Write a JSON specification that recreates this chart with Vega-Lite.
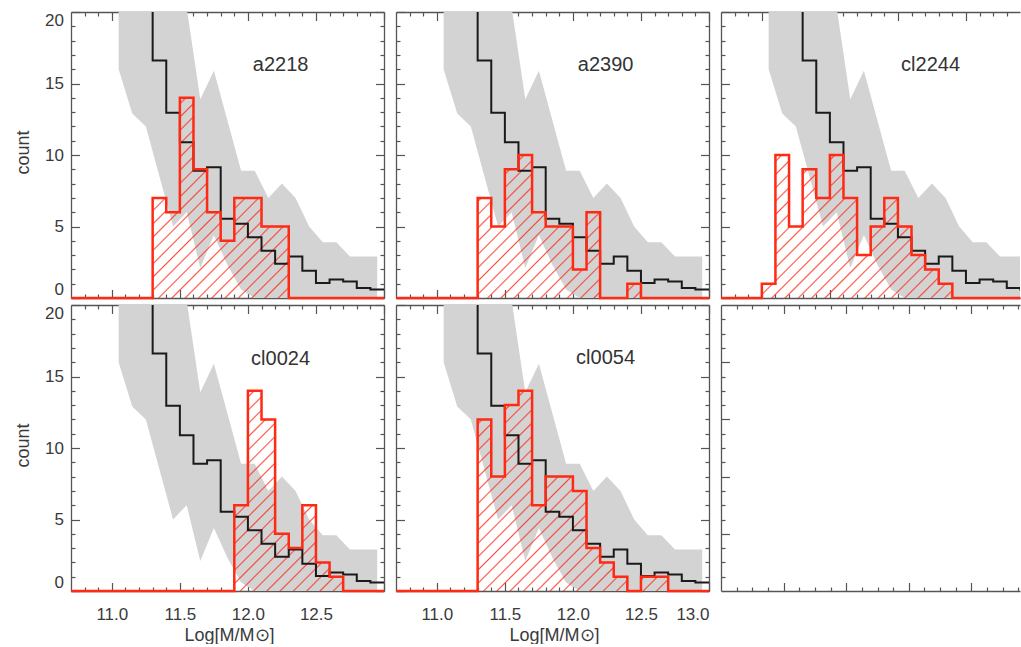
{
"$schema":"https://vega.github.io/schema/vega-lite/v6.json",
"background":"white",
"padding":{"left":14,"top":11,"right":0,"bottom":0},
"columns":3,
"spacing":{"row":7,"column":12},
"bounds":"flush",
"config":{"view":{"stroke":null},"axis":{"grid":false,"domainColor":"#555","domainWidth":1.3,"tickColor":"#555","tickWidth":1.2,"labelColor":"#3a3a3a","titleColor":"#3a3a3a","labelFont":"Liberation Sans","titleFont":"Liberation Sans","labelFontSize":17,"titleFontSize":18,"titleFontWeight":"normal","labelOverlap":false}},
"datasets":{
"band":[
{"x":11.05,"lo":16.0,"hi":30},{"x":11.15,"lo":12.9,"hi":30},{"x":11.25,"lo":12.0,"hi":30},{"x":11.35,"lo":8.5,"hi":30},{"x":11.45,"lo":5.0,"hi":26},{"x":11.55,"lo":6.0,"hi":20.3},{"x":11.65,"lo":2.1,"hi":13.9},{"x":11.75,"lo":4.4,"hi":15.9},{"x":11.85,"lo":2.3,"hi":12.4},{"x":11.95,"lo":0.6,"hi":8.9},{"x":12.05,"lo":0,"hi":8.9},{"x":12.15,"lo":0,"hi":7.0},{"x":12.25,"lo":0,"hi":8.0},{"x":12.35,"lo":0,"hi":7.0},{"x":12.45,"lo":0,"hi":5.0},{"x":12.55,"lo":0,"hi":3.9},{"x":12.65,"lo":0,"hi":3.9},{"x":12.75,"lo":0,"hi":2.9},{"x":12.85,"lo":0,"hi":2.9},{"x":12.95,"lo":0,"hi":2.9}],
"model":[
{"x":11.2,"n":24},{"x":11.3,"n":16.6},{"x":11.4,"n":12.95},{"x":11.5,"n":10.9},{"x":11.6,"n":8.9},{"x":11.7,"n":9.15},{"x":11.8,"n":5.55},{"x":11.9,"n":5.2},{"x":12.0,"n":4.25},{"x":12.1,"n":3.3},{"x":12.2,"n":2.4},{"x":12.3,"n":2.9},{"x":12.4,"n":1.9},{"x":12.5,"n":1.05},{"x":12.6,"n":1.3},{"x":12.7,"n":1.15},{"x":12.8,"n":0.7},{"x":12.9,"n":0.6},{"x":13.0,"n":0.6}],
"labels":[{"p":"a2218"},{"p":"a2390"},{"p":"cl2244"},{"p":"cl0024"},{"p":"cl0054"}],
"obs":[
{"p":"a2218","x":10.7,"n":0},{"p":"a2218","x":10.8,"n":0},{"p":"a2218","x":10.9,"n":0},{"p":"a2218","x":11.0,"n":0},{"p":"a2218","x":11.1,"n":0},{"p":"a2218","x":11.2,"n":0},{"p":"a2218","x":11.3,"n":7},{"p":"a2218","x":11.4,"n":6},{"p":"a2218","x":11.5,"n":14},{"p":"a2218","x":11.6,"n":9},{"p":"a2218","x":11.7,"n":6},{"p":"a2218","x":11.8,"n":4},{"p":"a2218","x":11.9,"n":7},{"p":"a2218","x":12.0,"n":7},{"p":"a2218","x":12.1,"n":5},{"p":"a2218","x":12.2,"n":5},{"p":"a2218","x":12.3,"n":0},{"p":"a2218","x":12.4,"n":0},{"p":"a2218","x":12.5,"n":0},{"p":"a2218","x":12.6,"n":0},{"p":"a2218","x":12.7,"n":0},{"p":"a2218","x":12.8,"n":0},{"p":"a2218","x":12.9,"n":0},{"p":"a2218","x":13.0,"n":0},
{"p":"a2390","x":10.7,"n":0},{"p":"a2390","x":10.8,"n":0},{"p":"a2390","x":10.9,"n":0},{"p":"a2390","x":11.0,"n":0},{"p":"a2390","x":11.1,"n":0},{"p":"a2390","x":11.2,"n":0},{"p":"a2390","x":11.3,"n":7},{"p":"a2390","x":11.4,"n":5},{"p":"a2390","x":11.5,"n":9},{"p":"a2390","x":11.6,"n":10},{"p":"a2390","x":11.7,"n":6},{"p":"a2390","x":11.8,"n":5},{"p":"a2390","x":11.9,"n":5},{"p":"a2390","x":12.0,"n":2},{"p":"a2390","x":12.1,"n":6},{"p":"a2390","x":12.2,"n":0},{"p":"a2390","x":12.3,"n":0},{"p":"a2390","x":12.4,"n":1},{"p":"a2390","x":12.5,"n":0},{"p":"a2390","x":12.6,"n":0},{"p":"a2390","x":12.7,"n":0},{"p":"a2390","x":12.8,"n":0},{"p":"a2390","x":12.9,"n":0},{"p":"a2390","x":13.0,"n":0},
{"p":"cl2244","x":10.7,"n":0},{"p":"cl2244","x":10.8,"n":0},{"p":"cl2244","x":10.9,"n":0},{"p":"cl2244","x":11.0,"n":1},{"p":"cl2244","x":11.1,"n":10},{"p":"cl2244","x":11.2,"n":5},{"p":"cl2244","x":11.3,"n":9},{"p":"cl2244","x":11.4,"n":7},{"p":"cl2244","x":11.5,"n":10},{"p":"cl2244","x":11.6,"n":7},{"p":"cl2244","x":11.7,"n":3},{"p":"cl2244","x":11.8,"n":5},{"p":"cl2244","x":11.9,"n":7},{"p":"cl2244","x":12.0,"n":5},{"p":"cl2244","x":12.1,"n":3},{"p":"cl2244","x":12.2,"n":2},{"p":"cl2244","x":12.3,"n":1},{"p":"cl2244","x":12.4,"n":0},{"p":"cl2244","x":12.5,"n":0},{"p":"cl2244","x":12.6,"n":0},{"p":"cl2244","x":12.7,"n":0},{"p":"cl2244","x":12.8,"n":0},{"p":"cl2244","x":12.9,"n":0},{"p":"cl2244","x":13.0,"n":0},
{"p":"cl0024","x":10.7,"n":0},{"p":"cl0024","x":10.8,"n":0},{"p":"cl0024","x":10.9,"n":0},{"p":"cl0024","x":11.0,"n":0},{"p":"cl0024","x":11.1,"n":0},{"p":"cl0024","x":11.2,"n":0},{"p":"cl0024","x":11.3,"n":0},{"p":"cl0024","x":11.4,"n":0},{"p":"cl0024","x":11.5,"n":0},{"p":"cl0024","x":11.6,"n":0},{"p":"cl0024","x":11.7,"n":0},{"p":"cl0024","x":11.8,"n":0},{"p":"cl0024","x":11.9,"n":6},{"p":"cl0024","x":12.0,"n":14},{"p":"cl0024","x":12.1,"n":12},{"p":"cl0024","x":12.2,"n":4},{"p":"cl0024","x":12.3,"n":3},{"p":"cl0024","x":12.4,"n":6},{"p":"cl0024","x":12.5,"n":2},{"p":"cl0024","x":12.6,"n":1},{"p":"cl0024","x":12.7,"n":0},{"p":"cl0024","x":12.8,"n":0},{"p":"cl0024","x":12.9,"n":0},{"p":"cl0024","x":13.0,"n":0},
{"p":"cl0054","x":10.7,"n":0},{"p":"cl0054","x":10.8,"n":0},{"p":"cl0054","x":10.9,"n":0},{"p":"cl0054","x":11.0,"n":0},{"p":"cl0054","x":11.1,"n":0},{"p":"cl0054","x":11.2,"n":0},{"p":"cl0054","x":11.3,"n":12},{"p":"cl0054","x":11.4,"n":8},{"p":"cl0054","x":11.5,"n":13},{"p":"cl0054","x":11.6,"n":14},{"p":"cl0054","x":11.7,"n":6},{"p":"cl0054","x":11.8,"n":8},{"p":"cl0054","x":11.9,"n":8},{"p":"cl0054","x":12.0,"n":7},{"p":"cl0054","x":12.1,"n":3},{"p":"cl0054","x":12.2,"n":2},{"p":"cl0054","x":12.3,"n":1},{"p":"cl0054","x":12.4,"n":0},{"p":"cl0054","x":12.5,"n":1},{"p":"cl0054","x":12.6,"n":1},{"p":"cl0054","x":12.7,"n":0},{"p":"cl0054","x":12.8,"n":0},{"p":"cl0054","x":12.9,"n":0},{"p":"cl0054","x":13.0,"n":0}]
},
"concat":[
{"width":313,"height":286,"resolve":{"axis":{"x":"independent","y":"independent"}},"layer":[
 {"data":{"name":"band"},"mark":{"type":"area","fill":"#d3d3d3","clip":true},"encoding":{
  "x":{"field":"x","type":"quantitative","scale":{"domain":[10.7,13.0],"nice":false,"zero":false},"axis":{"orient":"bottom","values":[10.8,10.9,11,11.1,11.2,11.3,11.4,11.5,11.6,11.7,11.8,11.9,12,12.1,12.2,12.3,12.4,12.5,12.6,12.7,12.8,12.9,13],"labels":false,"title":null,"tickSize":{"condition":{"test":"abs(datum.value*2-round(datum.value*2))<0.01","value":-8.5},"value":-4}}},
  "y":{"field":"hi","type":"quantitative","scale":{"domain":[0,20],"nice":false,"zero":false},"axis":{"orient":"left","values":[0,1,2,3,4,5,6,7,8,9,10,11,12,13,14,15,16,17,18,19,20],"format":"d","labelExpr":"datum.value % 5 == 0 ? datum.label : ''","labelFlush":true,"labelPadding":16,"tickSize":{"condition":{"test":"datum.value % 5 == 0","value":-8.5},"value":-4},"title":"count","titleX":-48,"titleY":140,"titleAngle":-90,"titleAlign":"center","titleBaseline":"middle"}},
  "y2":{"field":"lo"}}},
 {"data":{"name":"obs"},"transform":[{"filter":"datum.p == 'a2218' && datum.x > 11.25 && datum.x < 12.35"}],"mark":{"type":"area","interpolate":"step-after","clip":true,"fill":{"gradient":"linear","x1":0,"y1":0,"x2":0.9267,"y2":1.3631,"stops":[{"offset":0,"color":"rgba(255,40,20,0)"},{"offset":0.0127,"color":"rgba(255,40,20,0)"},{"offset":0.0167,"color":"rgba(255,40,20,0.8)"},{"offset":0.0207,"color":"rgba(255,40,20,0)"},{"offset":0.046,"color":"rgba(255,40,20,0)"},{"offset":0.05,"color":"rgba(255,40,20,0.8)"},{"offset":0.054,"color":"rgba(255,40,20,0)"},{"offset":0.0793,"color":"rgba(255,40,20,0)"},{"offset":0.0833,"color":"rgba(255,40,20,0.8)"},{"offset":0.0873,"color":"rgba(255,40,20,0)"},{"offset":0.1127,"color":"rgba(255,40,20,0)"},{"offset":0.1167,"color":"rgba(255,40,20,0.8)"},{"offset":0.1207,"color":"rgba(255,40,20,0)"},{"offset":0.146,"color":"rgba(255,40,20,0)"},{"offset":0.15,"color":"rgba(255,40,20,0.8)"},{"offset":0.154,"color":"rgba(255,40,20,0)"},{"offset":0.1793,"color":"rgba(255,40,20,0)"},{"offset":0.1833,"color":"rgba(255,40,20,0.8)"},{"offset":0.1873,"color":"rgba(255,40,20,0)"},{"offset":0.2127,"color":"rgba(255,40,20,0)"},{"offset":0.2167,"color":"rgba(255,40,20,0.8)"},{"offset":0.2207,"color":"rgba(255,40,20,0)"},{"offset":0.246,"color":"rgba(255,40,20,0)"},{"offset":0.25,"color":"rgba(255,40,20,0.8)"},{"offset":0.254,"color":"rgba(255,40,20,0)"},{"offset":0.2793,"color":"rgba(255,40,20,0)"},{"offset":0.2833,"color":"rgba(255,40,20,0.8)"},{"offset":0.2873,"color":"rgba(255,40,20,0)"},{"offset":0.3127,"color":"rgba(255,40,20,0)"},{"offset":0.3167,"color":"rgba(255,40,20,0.8)"},{"offset":0.3207,"color":"rgba(255,40,20,0)"},{"offset":0.346,"color":"rgba(255,40,20,0)"},{"offset":0.35,"color":"rgba(255,40,20,0.8)"},{"offset":0.354,"color":"rgba(255,40,20,0)"},{"offset":0.3793,"color":"rgba(255,40,20,0)"},{"offset":0.3833,"color":"rgba(255,40,20,0.8)"},{"offset":0.3873,"color":"rgba(255,40,20,0)"},{"offset":0.4127,"color":"rgba(255,40,20,0)"},{"offset":0.4167,"color":"rgba(255,40,20,0.8)"},{"offset":0.4207,"color":"rgba(255,40,20,0)"},{"offset":0.446,"color":"rgba(255,40,20,0)"},{"offset":0.45,"color":"rgba(255,40,20,0.8)"},{"offset":0.454,"color":"rgba(255,40,20,0)"},{"offset":0.4793,"color":"rgba(255,40,20,0)"},{"offset":0.4833,"color":"rgba(255,40,20,0.8)"},{"offset":0.4873,"color":"rgba(255,40,20,0)"},{"offset":0.5127,"color":"rgba(255,40,20,0)"},{"offset":0.5167,"color":"rgba(255,40,20,0.8)"},{"offset":0.5207,"color":"rgba(255,40,20,0)"},{"offset":0.546,"color":"rgba(255,40,20,0)"},{"offset":0.55,"color":"rgba(255,40,20,0.8)"},{"offset":0.554,"color":"rgba(255,40,20,0)"},{"offset":0.5793,"color":"rgba(255,40,20,0)"},{"offset":0.5833,"color":"rgba(255,40,20,0.8)"},{"offset":0.5873,"color":"rgba(255,40,20,0)"},{"offset":0.6127,"color":"rgba(255,40,20,0)"},{"offset":0.6167,"color":"rgba(255,40,20,0.8)"},{"offset":0.6207,"color":"rgba(255,40,20,0)"},{"offset":0.646,"color":"rgba(255,40,20,0)"},{"offset":0.65,"color":"rgba(255,40,20,0.8)"},{"offset":0.654,"color":"rgba(255,40,20,0)"},{"offset":0.6793,"color":"rgba(255,40,20,0)"},{"offset":0.6833,"color":"rgba(255,40,20,0.8)"},{"offset":0.6873,"color":"rgba(255,40,20,0)"},{"offset":0.7127,"color":"rgba(255,40,20,0)"},{"offset":0.7167,"color":"rgba(255,40,20,0.8)"},{"offset":0.7207,"color":"rgba(255,40,20,0)"},{"offset":0.746,"color":"rgba(255,40,20,0)"},{"offset":0.75,"color":"rgba(255,40,20,0.8)"},{"offset":0.754,"color":"rgba(255,40,20,0)"},{"offset":0.7793,"color":"rgba(255,40,20,0)"},{"offset":0.7833,"color":"rgba(255,40,20,0.8)"},{"offset":0.7873,"color":"rgba(255,40,20,0)"},{"offset":0.8127,"color":"rgba(255,40,20,0)"},{"offset":0.8167,"color":"rgba(255,40,20,0.8)"},{"offset":0.8207,"color":"rgba(255,40,20,0)"},{"offset":0.846,"color":"rgba(255,40,20,0)"},{"offset":0.85,"color":"rgba(255,40,20,0.8)"},{"offset":0.854,"color":"rgba(255,40,20,0)"},{"offset":0.8793,"color":"rgba(255,40,20,0)"},{"offset":0.8833,"color":"rgba(255,40,20,0.8)"},{"offset":0.8873,"color":"rgba(255,40,20,0)"},{"offset":0.9127,"color":"rgba(255,40,20,0)"},{"offset":0.9167,"color":"rgba(255,40,20,0.8)"},{"offset":0.9207,"color":"rgba(255,40,20,0)"},{"offset":0.946,"color":"rgba(255,40,20,0)"},{"offset":0.95,"color":"rgba(255,40,20,0.8)"},{"offset":0.954,"color":"rgba(255,40,20,0)"},{"offset":0.9793,"color":"rgba(255,40,20,0)"},{"offset":0.9833,"color":"rgba(255,40,20,0.8)"},{"offset":0.9873,"color":"rgba(255,40,20,0)"},{"offset":1,"color":"rgba(255,40,20,0)"}]}},"encoding":{
  "x":{"field":"x","type":"quantitative","scale":{"domain":[10.7,13.0],"nice":false,"zero":false},"axis":{"orient":"top","values":[10.8,10.9,11,11.1,11.2,11.3,11.4,11.5,11.6,11.7,11.8,11.9,12,12.1,12.2,12.3,12.4,12.5,12.6,12.7,12.8,12.9,13],"labels":false,"title":null,"tickSize":{"condition":{"test":"abs(datum.value*2-round(datum.value*2))<0.01","value":-8.5},"value":-4}}},
  "y":{"field":"n","type":"quantitative","stack":null,"scale":{"domain":[0,20],"nice":false,"zero":false},"axis":{"orient":"right","values":[0,1,2,3,4,5,6,7,8,9,10,11,12,13,14,15,16,17,18,19,20],"labels":false,"title":null,"tickSize":{"condition":{"test":"datum.value % 5 == 0","value":-8.5},"value":-4}}}}},
 {"data":{"name":"model"},"mark":{"type":"line","interpolate":"step-after","color":"#1a1a1a","strokeWidth":2,"clip":true},"encoding":{
  "x":{"field":"x","type":"quantitative","scale":{"domain":[10.7,13.0],"nice":false,"zero":false},"axis":null},
  "y":{"field":"n","type":"quantitative","scale":{"domain":[0,20],"nice":false,"zero":false},"axis":null}}},
 {"data":{"name":"obs"},"transform":[{"filter":"datum.p == 'a2218'"}],"mark":{"type":"line","interpolate":"step-after","color":"#ff2a14","strokeWidth":2.5},"encoding":{
  "x":{"field":"x","type":"quantitative","scale":{"domain":[10.7,13.0],"nice":false,"zero":false},"axis":null},
  "y":{"field":"n","type":"quantitative","scale":{"domain":[0,20],"nice":false,"zero":false},"axis":null}}},
 {"data":{"name":"labels"},"transform":[{"filter":"datum.p == 'a2218'"}],"mark":{"type":"text","font":"Liberation Sans","fontSize":20,"color":"#333","align":"center","baseline":"middle"},"encoding":{
  "x":{"datum":12.24,"type":"quantitative","scale":{"domain":[10.7,13.0],"nice":false,"zero":false},"axis":null},
  "y":{"datum":16.3,"type":"quantitative","scale":{"domain":[0,20],"nice":false,"zero":false},"axis":null},
  "text":{"field":"p"}}}
]},
{"width":313,"height":286,"resolve":{"axis":{"x":"independent","y":"independent"}},"layer":[
 {"data":{"name":"band"},"mark":{"type":"area","fill":"#d3d3d3","clip":true},"encoding":{
  "x":{"field":"x","type":"quantitative","scale":{"domain":[10.7,13.0],"nice":false,"zero":false},"axis":{"orient":"bottom","values":[10.8,10.9,11,11.1,11.2,11.3,11.4,11.5,11.6,11.7,11.8,11.9,12,12.1,12.2,12.3,12.4,12.5,12.6,12.7,12.8,12.9,13],"labels":false,"title":null,"tickSize":{"condition":{"test":"abs(datum.value*2-round(datum.value*2))<0.01","value":-8.5},"value":-4}}},
  "y":{"field":"hi","type":"quantitative","scale":{"domain":[0,20],"nice":false,"zero":false},"axis":{"orient":"left","values":[0,1,2,3,4,5,6,7,8,9,10,11,12,13,14,15,16,17,18,19,20],"labels":false,"title":null,"tickSize":{"condition":{"test":"datum.value % 5 == 0","value":-8.5},"value":-4}}},
  "y2":{"field":"lo"}}},
 {"data":{"name":"obs"},"transform":[{"filter":"datum.p == 'a2390' && datum.x > 11.25 && datum.x < 12.55"}],"mark":{"type":"area","interpolate":"step-after","clip":true,"fill":{"gradient":"linear","x1":0,"y1":0,"x2":1.3829,"y2":1.2110,"stops":[{"offset":0,"color":"rgba(255,40,20,0)"},{"offset":0.0127,"color":"rgba(255,40,20,0)"},{"offset":0.0167,"color":"rgba(255,40,20,0.8)"},{"offset":0.0207,"color":"rgba(255,40,20,0)"},{"offset":0.046,"color":"rgba(255,40,20,0)"},{"offset":0.05,"color":"rgba(255,40,20,0.8)"},{"offset":0.054,"color":"rgba(255,40,20,0)"},{"offset":0.0793,"color":"rgba(255,40,20,0)"},{"offset":0.0833,"color":"rgba(255,40,20,0.8)"},{"offset":0.0873,"color":"rgba(255,40,20,0)"},{"offset":0.1127,"color":"rgba(255,40,20,0)"},{"offset":0.1167,"color":"rgba(255,40,20,0.8)"},{"offset":0.1207,"color":"rgba(255,40,20,0)"},{"offset":0.146,"color":"rgba(255,40,20,0)"},{"offset":0.15,"color":"rgba(255,40,20,0.8)"},{"offset":0.154,"color":"rgba(255,40,20,0)"},{"offset":0.1793,"color":"rgba(255,40,20,0)"},{"offset":0.1833,"color":"rgba(255,40,20,0.8)"},{"offset":0.1873,"color":"rgba(255,40,20,0)"},{"offset":0.2127,"color":"rgba(255,40,20,0)"},{"offset":0.2167,"color":"rgba(255,40,20,0.8)"},{"offset":0.2207,"color":"rgba(255,40,20,0)"},{"offset":0.246,"color":"rgba(255,40,20,0)"},{"offset":0.25,"color":"rgba(255,40,20,0.8)"},{"offset":0.254,"color":"rgba(255,40,20,0)"},{"offset":0.2793,"color":"rgba(255,40,20,0)"},{"offset":0.2833,"color":"rgba(255,40,20,0.8)"},{"offset":0.2873,"color":"rgba(255,40,20,0)"},{"offset":0.3127,"color":"rgba(255,40,20,0)"},{"offset":0.3167,"color":"rgba(255,40,20,0.8)"},{"offset":0.3207,"color":"rgba(255,40,20,0)"},{"offset":0.346,"color":"rgba(255,40,20,0)"},{"offset":0.35,"color":"rgba(255,40,20,0.8)"},{"offset":0.354,"color":"rgba(255,40,20,0)"},{"offset":0.3793,"color":"rgba(255,40,20,0)"},{"offset":0.3833,"color":"rgba(255,40,20,0.8)"},{"offset":0.3873,"color":"rgba(255,40,20,0)"},{"offset":0.4127,"color":"rgba(255,40,20,0)"},{"offset":0.4167,"color":"rgba(255,40,20,0.8)"},{"offset":0.4207,"color":"rgba(255,40,20,0)"},{"offset":0.446,"color":"rgba(255,40,20,0)"},{"offset":0.45,"color":"rgba(255,40,20,0.8)"},{"offset":0.454,"color":"rgba(255,40,20,0)"},{"offset":0.4793,"color":"rgba(255,40,20,0)"},{"offset":0.4833,"color":"rgba(255,40,20,0.8)"},{"offset":0.4873,"color":"rgba(255,40,20,0)"},{"offset":0.5127,"color":"rgba(255,40,20,0)"},{"offset":0.5167,"color":"rgba(255,40,20,0.8)"},{"offset":0.5207,"color":"rgba(255,40,20,0)"},{"offset":0.546,"color":"rgba(255,40,20,0)"},{"offset":0.55,"color":"rgba(255,40,20,0.8)"},{"offset":0.554,"color":"rgba(255,40,20,0)"},{"offset":0.5793,"color":"rgba(255,40,20,0)"},{"offset":0.5833,"color":"rgba(255,40,20,0.8)"},{"offset":0.5873,"color":"rgba(255,40,20,0)"},{"offset":0.6127,"color":"rgba(255,40,20,0)"},{"offset":0.6167,"color":"rgba(255,40,20,0.8)"},{"offset":0.6207,"color":"rgba(255,40,20,0)"},{"offset":0.646,"color":"rgba(255,40,20,0)"},{"offset":0.65,"color":"rgba(255,40,20,0.8)"},{"offset":0.654,"color":"rgba(255,40,20,0)"},{"offset":0.6793,"color":"rgba(255,40,20,0)"},{"offset":0.6833,"color":"rgba(255,40,20,0.8)"},{"offset":0.6873,"color":"rgba(255,40,20,0)"},{"offset":0.7127,"color":"rgba(255,40,20,0)"},{"offset":0.7167,"color":"rgba(255,40,20,0.8)"},{"offset":0.7207,"color":"rgba(255,40,20,0)"},{"offset":0.746,"color":"rgba(255,40,20,0)"},{"offset":0.75,"color":"rgba(255,40,20,0.8)"},{"offset":0.754,"color":"rgba(255,40,20,0)"},{"offset":0.7793,"color":"rgba(255,40,20,0)"},{"offset":0.7833,"color":"rgba(255,40,20,0.8)"},{"offset":0.7873,"color":"rgba(255,40,20,0)"},{"offset":0.8127,"color":"rgba(255,40,20,0)"},{"offset":0.8167,"color":"rgba(255,40,20,0.8)"},{"offset":0.8207,"color":"rgba(255,40,20,0)"},{"offset":0.846,"color":"rgba(255,40,20,0)"},{"offset":0.85,"color":"rgba(255,40,20,0.8)"},{"offset":0.854,"color":"rgba(255,40,20,0)"},{"offset":0.8793,"color":"rgba(255,40,20,0)"},{"offset":0.8833,"color":"rgba(255,40,20,0.8)"},{"offset":0.8873,"color":"rgba(255,40,20,0)"},{"offset":0.9127,"color":"rgba(255,40,20,0)"},{"offset":0.9167,"color":"rgba(255,40,20,0.8)"},{"offset":0.9207,"color":"rgba(255,40,20,0)"},{"offset":0.946,"color":"rgba(255,40,20,0)"},{"offset":0.95,"color":"rgba(255,40,20,0.8)"},{"offset":0.954,"color":"rgba(255,40,20,0)"},{"offset":0.9793,"color":"rgba(255,40,20,0)"},{"offset":0.9833,"color":"rgba(255,40,20,0.8)"},{"offset":0.9873,"color":"rgba(255,40,20,0)"},{"offset":1,"color":"rgba(255,40,20,0)"}]}},"encoding":{
  "x":{"field":"x","type":"quantitative","scale":{"domain":[10.7,13.0],"nice":false,"zero":false},"axis":{"orient":"top","values":[10.8,10.9,11,11.1,11.2,11.3,11.4,11.5,11.6,11.7,11.8,11.9,12,12.1,12.2,12.3,12.4,12.5,12.6,12.7,12.8,12.9,13],"labels":false,"title":null,"tickSize":{"condition":{"test":"abs(datum.value*2-round(datum.value*2))<0.01","value":-8.5},"value":-4}}},
  "y":{"field":"n","type":"quantitative","stack":null,"scale":{"domain":[0,20],"nice":false,"zero":false},"axis":{"orient":"right","values":[0,1,2,3,4,5,6,7,8,9,10,11,12,13,14,15,16,17,18,19,20],"labels":false,"title":null,"tickSize":{"condition":{"test":"datum.value % 5 == 0","value":-8.5},"value":-4}}}}},
 {"data":{"name":"model"},"mark":{"type":"line","interpolate":"step-after","color":"#1a1a1a","strokeWidth":2,"clip":true},"encoding":{
  "x":{"field":"x","type":"quantitative","scale":{"domain":[10.7,13.0],"nice":false,"zero":false},"axis":null},
  "y":{"field":"n","type":"quantitative","scale":{"domain":[0,20],"nice":false,"zero":false},"axis":null}}},
 {"data":{"name":"obs"},"transform":[{"filter":"datum.p == 'a2390'"}],"mark":{"type":"line","interpolate":"step-after","color":"#ff2a14","strokeWidth":2.5},"encoding":{
  "x":{"field":"x","type":"quantitative","scale":{"domain":[10.7,13.0],"nice":false,"zero":false},"axis":null},
  "y":{"field":"n","type":"quantitative","scale":{"domain":[0,20],"nice":false,"zero":false},"axis":null}}},
 {"data":{"name":"labels"},"transform":[{"filter":"datum.p == 'a2390'"}],"mark":{"type":"text","font":"Liberation Sans","fontSize":20,"color":"#333","align":"center","baseline":"middle"},"encoding":{
  "x":{"datum":12.24,"type":"quantitative","scale":{"domain":[10.7,13.0],"nice":false,"zero":false},"axis":null},
  "y":{"datum":16.3,"type":"quantitative","scale":{"domain":[0,20],"nice":false,"zero":false},"axis":null},
  "text":{"field":"p"}}}
]},
{"width":299,"height":286,"resolve":{"axis":{"x":"independent","y":"independent"}},"layer":[
 {"data":{"name":"band"},"mark":{"type":"area","fill":"#d3d3d3","clip":true},"encoding":{
  "x":{"field":"x","type":"quantitative","scale":{"domain":[10.7,12.8971],"nice":false,"zero":false},"axis":{"orient":"bottom","values":[10.8,10.9,11,11.1,11.2,11.3,11.4,11.5,11.6,11.7,11.8,11.9,12,12.1,12.2,12.3,12.4,12.5,12.6,12.7,12.8],"labels":false,"title":null,"tickSize":{"condition":{"test":"abs(datum.value*2-round(datum.value*2))<0.01","value":-8.5},"value":-4}}},
  "y":{"field":"hi","type":"quantitative","scale":{"domain":[0,20],"nice":false,"zero":false},"axis":{"orient":"left","values":[0,1,2,3,4,5,6,7,8,9,10,11,12,13,14,15,16,17,18,19,20],"labels":false,"title":null,"tickSize":{"condition":{"test":"datum.value % 5 == 0","value":-8.5},"value":-4}}},
  "y2":{"field":"lo"}}},
 {"data":{"name":"obs"},"transform":[{"filter":"datum.p == 'cl2244' && datum.x > 10.95 && datum.x < 12.45"}],"mark":{"type":"area","interpolate":"step-after","clip":true,"fill":{"gradient":"linear","x1":0,"y1":0,"x2":1.3396,"y2":1.0056,"stops":[{"offset":0,"color":"rgba(255,40,20,0)"},{"offset":0.0127,"color":"rgba(255,40,20,0)"},{"offset":0.0167,"color":"rgba(255,40,20,0.8)"},{"offset":0.0207,"color":"rgba(255,40,20,0)"},{"offset":0.046,"color":"rgba(255,40,20,0)"},{"offset":0.05,"color":"rgba(255,40,20,0.8)"},{"offset":0.054,"color":"rgba(255,40,20,0)"},{"offset":0.0793,"color":"rgba(255,40,20,0)"},{"offset":0.0833,"color":"rgba(255,40,20,0.8)"},{"offset":0.0873,"color":"rgba(255,40,20,0)"},{"offset":0.1127,"color":"rgba(255,40,20,0)"},{"offset":0.1167,"color":"rgba(255,40,20,0.8)"},{"offset":0.1207,"color":"rgba(255,40,20,0)"},{"offset":0.146,"color":"rgba(255,40,20,0)"},{"offset":0.15,"color":"rgba(255,40,20,0.8)"},{"offset":0.154,"color":"rgba(255,40,20,0)"},{"offset":0.1793,"color":"rgba(255,40,20,0)"},{"offset":0.1833,"color":"rgba(255,40,20,0.8)"},{"offset":0.1873,"color":"rgba(255,40,20,0)"},{"offset":0.2127,"color":"rgba(255,40,20,0)"},{"offset":0.2167,"color":"rgba(255,40,20,0.8)"},{"offset":0.2207,"color":"rgba(255,40,20,0)"},{"offset":0.246,"color":"rgba(255,40,20,0)"},{"offset":0.25,"color":"rgba(255,40,20,0.8)"},{"offset":0.254,"color":"rgba(255,40,20,0)"},{"offset":0.2793,"color":"rgba(255,40,20,0)"},{"offset":0.2833,"color":"rgba(255,40,20,0.8)"},{"offset":0.2873,"color":"rgba(255,40,20,0)"},{"offset":0.3127,"color":"rgba(255,40,20,0)"},{"offset":0.3167,"color":"rgba(255,40,20,0.8)"},{"offset":0.3207,"color":"rgba(255,40,20,0)"},{"offset":0.346,"color":"rgba(255,40,20,0)"},{"offset":0.35,"color":"rgba(255,40,20,0.8)"},{"offset":0.354,"color":"rgba(255,40,20,0)"},{"offset":0.3793,"color":"rgba(255,40,20,0)"},{"offset":0.3833,"color":"rgba(255,40,20,0.8)"},{"offset":0.3873,"color":"rgba(255,40,20,0)"},{"offset":0.4127,"color":"rgba(255,40,20,0)"},{"offset":0.4167,"color":"rgba(255,40,20,0.8)"},{"offset":0.4207,"color":"rgba(255,40,20,0)"},{"offset":0.446,"color":"rgba(255,40,20,0)"},{"offset":0.45,"color":"rgba(255,40,20,0.8)"},{"offset":0.454,"color":"rgba(255,40,20,0)"},{"offset":0.4793,"color":"rgba(255,40,20,0)"},{"offset":0.4833,"color":"rgba(255,40,20,0.8)"},{"offset":0.4873,"color":"rgba(255,40,20,0)"},{"offset":0.5127,"color":"rgba(255,40,20,0)"},{"offset":0.5167,"color":"rgba(255,40,20,0.8)"},{"offset":0.5207,"color":"rgba(255,40,20,0)"},{"offset":0.546,"color":"rgba(255,40,20,0)"},{"offset":0.55,"color":"rgba(255,40,20,0.8)"},{"offset":0.554,"color":"rgba(255,40,20,0)"},{"offset":0.5793,"color":"rgba(255,40,20,0)"},{"offset":0.5833,"color":"rgba(255,40,20,0.8)"},{"offset":0.5873,"color":"rgba(255,40,20,0)"},{"offset":0.6127,"color":"rgba(255,40,20,0)"},{"offset":0.6167,"color":"rgba(255,40,20,0.8)"},{"offset":0.6207,"color":"rgba(255,40,20,0)"},{"offset":0.646,"color":"rgba(255,40,20,0)"},{"offset":0.65,"color":"rgba(255,40,20,0.8)"},{"offset":0.654,"color":"rgba(255,40,20,0)"},{"offset":0.6793,"color":"rgba(255,40,20,0)"},{"offset":0.6833,"color":"rgba(255,40,20,0.8)"},{"offset":0.6873,"color":"rgba(255,40,20,0)"},{"offset":0.7127,"color":"rgba(255,40,20,0)"},{"offset":0.7167,"color":"rgba(255,40,20,0.8)"},{"offset":0.7207,"color":"rgba(255,40,20,0)"},{"offset":0.746,"color":"rgba(255,40,20,0)"},{"offset":0.75,"color":"rgba(255,40,20,0.8)"},{"offset":0.754,"color":"rgba(255,40,20,0)"},{"offset":0.7793,"color":"rgba(255,40,20,0)"},{"offset":0.7833,"color":"rgba(255,40,20,0.8)"},{"offset":0.7873,"color":"rgba(255,40,20,0)"},{"offset":0.8127,"color":"rgba(255,40,20,0)"},{"offset":0.8167,"color":"rgba(255,40,20,0.8)"},{"offset":0.8207,"color":"rgba(255,40,20,0)"},{"offset":0.846,"color":"rgba(255,40,20,0)"},{"offset":0.85,"color":"rgba(255,40,20,0.8)"},{"offset":0.854,"color":"rgba(255,40,20,0)"},{"offset":0.8793,"color":"rgba(255,40,20,0)"},{"offset":0.8833,"color":"rgba(255,40,20,0.8)"},{"offset":0.8873,"color":"rgba(255,40,20,0)"},{"offset":0.9127,"color":"rgba(255,40,20,0)"},{"offset":0.9167,"color":"rgba(255,40,20,0.8)"},{"offset":0.9207,"color":"rgba(255,40,20,0)"},{"offset":0.946,"color":"rgba(255,40,20,0)"},{"offset":0.95,"color":"rgba(255,40,20,0.8)"},{"offset":0.954,"color":"rgba(255,40,20,0)"},{"offset":0.9793,"color":"rgba(255,40,20,0)"},{"offset":0.9833,"color":"rgba(255,40,20,0.8)"},{"offset":0.9873,"color":"rgba(255,40,20,0)"},{"offset":1,"color":"rgba(255,40,20,0)"}]}},"encoding":{
  "x":{"field":"x","type":"quantitative","scale":{"domain":[10.7,12.8971],"nice":false,"zero":false},"axis":{"orient":"top","values":[10.8,10.9,11,11.1,11.2,11.3,11.4,11.5,11.6,11.7,11.8,11.9,12,12.1,12.2,12.3,12.4,12.5,12.6,12.7,12.8],"labels":false,"title":null,"tickSize":{"condition":{"test":"abs(datum.value*2-round(datum.value*2))<0.01","value":-8.5},"value":-4}}},
  "y":{"field":"n","type":"quantitative","stack":null,"scale":{"domain":[0,20],"nice":false,"zero":false},"axis":null}}},
 {"data":{"name":"model"},"mark":{"type":"line","interpolate":"step-after","color":"#1a1a1a","strokeWidth":2,"clip":true},"encoding":{
  "x":{"field":"x","type":"quantitative","scale":{"domain":[10.7,12.8971],"nice":false,"zero":false},"axis":null},
  "y":{"field":"n","type":"quantitative","scale":{"domain":[0,20],"nice":false,"zero":false},"axis":null}}},
 {"data":{"name":"obs"},"transform":[{"filter":"datum.p == 'cl2244' && datum.x < 12.95"}],"mark":{"type":"line","interpolate":"step-after","color":"#ff2a14","strokeWidth":2.5},"encoding":{
  "x":{"field":"x","type":"quantitative","scale":{"domain":[10.7,12.8971],"nice":false,"zero":false},"axis":null},
  "y":{"field":"n","type":"quantitative","scale":{"domain":[0,20],"nice":false,"zero":false},"axis":null}}},
 {"data":{"name":"labels"},"transform":[{"filter":"datum.p == 'cl2244'"}],"mark":{"type":"text","font":"Liberation Sans","fontSize":20,"color":"#333","align":"center","baseline":"middle"},"encoding":{
  "x":{"datum":12.24,"type":"quantitative","scale":{"domain":[10.7,12.8971],"nice":false,"zero":false},"axis":null},
  "y":{"datum":16.3,"type":"quantitative","scale":{"domain":[0,20],"nice":false,"zero":false},"axis":null},
  "text":{"field":"p"}}}
]},
{"width":313,"height":286,"resolve":{"axis":{"x":"independent","y":"independent"}},"layer":[
 {"data":{"name":"band"},"mark":{"type":"area","fill":"#d3d3d3","clip":true},"encoding":{
  "x":{"field":"x","type":"quantitative","scale":{"domain":[10.7,13.0],"nice":false,"zero":false},"axis":{"orient":"bottom","values":[10.8,10.9,11,11.1,11.2,11.3,11.4,11.5,11.6,11.7,11.8,11.9,12,12.1,12.2,12.3,12.4,12.5,12.6,12.7,12.8,12.9,13],"format":".1f","labelExpr":"abs(datum.value*2-round(datum.value*2))<0.01 && datum.value<12.95 ? datum.label : ''","labelPadding":24,"tickSize":{"condition":{"test":"abs(datum.value*2-round(datum.value*2))<0.01","value":-8.5},"value":-4},"title":"Log[M/M⊙]","titleX":158,"titleY":44,"titleAlign":"center","titleBaseline":"middle"}},
  "y":{"field":"hi","type":"quantitative","scale":{"domain":[0,20],"nice":false,"zero":false},"axis":{"orient":"left","values":[0,1,2,3,4,5,6,7,8,9,10,11,12,13,14,15,16,17,18,19,20],"format":"d","labelExpr":"datum.value % 5 == 0 ? datum.label : ''","labelFlush":true,"labelPadding":16,"tickSize":{"condition":{"test":"datum.value % 5 == 0","value":-8.5},"value":-4},"title":"count","titleX":-48,"titleY":140,"titleAngle":-90,"titleAlign":"center","titleBaseline":"middle"}},
  "y2":{"field":"lo"}}},
 {"data":{"name":"obs"},"transform":[{"filter":"datum.p == 'cl0024' && datum.x > 11.85 && datum.x < 12.75"}],"mark":{"type":"area","interpolate":"step-after","clip":true,"fill":{"gradient":"linear","x1":0,"y1":0,"x2":0.8366,"y2":1.5380,"stops":[{"offset":0,"color":"rgba(255,40,20,0)"},{"offset":0.0127,"color":"rgba(255,40,20,0)"},{"offset":0.0167,"color":"rgba(255,40,20,0.8)"},{"offset":0.0207,"color":"rgba(255,40,20,0)"},{"offset":0.046,"color":"rgba(255,40,20,0)"},{"offset":0.05,"color":"rgba(255,40,20,0.8)"},{"offset":0.054,"color":"rgba(255,40,20,0)"},{"offset":0.0793,"color":"rgba(255,40,20,0)"},{"offset":0.0833,"color":"rgba(255,40,20,0.8)"},{"offset":0.0873,"color":"rgba(255,40,20,0)"},{"offset":0.1127,"color":"rgba(255,40,20,0)"},{"offset":0.1167,"color":"rgba(255,40,20,0.8)"},{"offset":0.1207,"color":"rgba(255,40,20,0)"},{"offset":0.146,"color":"rgba(255,40,20,0)"},{"offset":0.15,"color":"rgba(255,40,20,0.8)"},{"offset":0.154,"color":"rgba(255,40,20,0)"},{"offset":0.1793,"color":"rgba(255,40,20,0)"},{"offset":0.1833,"color":"rgba(255,40,20,0.8)"},{"offset":0.1873,"color":"rgba(255,40,20,0)"},{"offset":0.2127,"color":"rgba(255,40,20,0)"},{"offset":0.2167,"color":"rgba(255,40,20,0.8)"},{"offset":0.2207,"color":"rgba(255,40,20,0)"},{"offset":0.246,"color":"rgba(255,40,20,0)"},{"offset":0.25,"color":"rgba(255,40,20,0.8)"},{"offset":0.254,"color":"rgba(255,40,20,0)"},{"offset":0.2793,"color":"rgba(255,40,20,0)"},{"offset":0.2833,"color":"rgba(255,40,20,0.8)"},{"offset":0.2873,"color":"rgba(255,40,20,0)"},{"offset":0.3127,"color":"rgba(255,40,20,0)"},{"offset":0.3167,"color":"rgba(255,40,20,0.8)"},{"offset":0.3207,"color":"rgba(255,40,20,0)"},{"offset":0.346,"color":"rgba(255,40,20,0)"},{"offset":0.35,"color":"rgba(255,40,20,0.8)"},{"offset":0.354,"color":"rgba(255,40,20,0)"},{"offset":0.3793,"color":"rgba(255,40,20,0)"},{"offset":0.3833,"color":"rgba(255,40,20,0.8)"},{"offset":0.3873,"color":"rgba(255,40,20,0)"},{"offset":0.4127,"color":"rgba(255,40,20,0)"},{"offset":0.4167,"color":"rgba(255,40,20,0.8)"},{"offset":0.4207,"color":"rgba(255,40,20,0)"},{"offset":0.446,"color":"rgba(255,40,20,0)"},{"offset":0.45,"color":"rgba(255,40,20,0.8)"},{"offset":0.454,"color":"rgba(255,40,20,0)"},{"offset":0.4793,"color":"rgba(255,40,20,0)"},{"offset":0.4833,"color":"rgba(255,40,20,0.8)"},{"offset":0.4873,"color":"rgba(255,40,20,0)"},{"offset":0.5127,"color":"rgba(255,40,20,0)"},{"offset":0.5167,"color":"rgba(255,40,20,0.8)"},{"offset":0.5207,"color":"rgba(255,40,20,0)"},{"offset":0.546,"color":"rgba(255,40,20,0)"},{"offset":0.55,"color":"rgba(255,40,20,0.8)"},{"offset":0.554,"color":"rgba(255,40,20,0)"},{"offset":0.5793,"color":"rgba(255,40,20,0)"},{"offset":0.5833,"color":"rgba(255,40,20,0.8)"},{"offset":0.5873,"color":"rgba(255,40,20,0)"},{"offset":0.6127,"color":"rgba(255,40,20,0)"},{"offset":0.6167,"color":"rgba(255,40,20,0.8)"},{"offset":0.6207,"color":"rgba(255,40,20,0)"},{"offset":0.646,"color":"rgba(255,40,20,0)"},{"offset":0.65,"color":"rgba(255,40,20,0.8)"},{"offset":0.654,"color":"rgba(255,40,20,0)"},{"offset":0.6793,"color":"rgba(255,40,20,0)"},{"offset":0.6833,"color":"rgba(255,40,20,0.8)"},{"offset":0.6873,"color":"rgba(255,40,20,0)"},{"offset":0.7127,"color":"rgba(255,40,20,0)"},{"offset":0.7167,"color":"rgba(255,40,20,0.8)"},{"offset":0.7207,"color":"rgba(255,40,20,0)"},{"offset":0.746,"color":"rgba(255,40,20,0)"},{"offset":0.75,"color":"rgba(255,40,20,0.8)"},{"offset":0.754,"color":"rgba(255,40,20,0)"},{"offset":0.7793,"color":"rgba(255,40,20,0)"},{"offset":0.7833,"color":"rgba(255,40,20,0.8)"},{"offset":0.7873,"color":"rgba(255,40,20,0)"},{"offset":0.8127,"color":"rgba(255,40,20,0)"},{"offset":0.8167,"color":"rgba(255,40,20,0.8)"},{"offset":0.8207,"color":"rgba(255,40,20,0)"},{"offset":0.846,"color":"rgba(255,40,20,0)"},{"offset":0.85,"color":"rgba(255,40,20,0.8)"},{"offset":0.854,"color":"rgba(255,40,20,0)"},{"offset":0.8793,"color":"rgba(255,40,20,0)"},{"offset":0.8833,"color":"rgba(255,40,20,0.8)"},{"offset":0.8873,"color":"rgba(255,40,20,0)"},{"offset":0.9127,"color":"rgba(255,40,20,0)"},{"offset":0.9167,"color":"rgba(255,40,20,0.8)"},{"offset":0.9207,"color":"rgba(255,40,20,0)"},{"offset":0.946,"color":"rgba(255,40,20,0)"},{"offset":0.95,"color":"rgba(255,40,20,0.8)"},{"offset":0.954,"color":"rgba(255,40,20,0)"},{"offset":0.9793,"color":"rgba(255,40,20,0)"},{"offset":0.9833,"color":"rgba(255,40,20,0.8)"},{"offset":0.9873,"color":"rgba(255,40,20,0)"},{"offset":1,"color":"rgba(255,40,20,0)"}]}},"encoding":{
  "x":{"field":"x","type":"quantitative","scale":{"domain":[10.7,13.0],"nice":false,"zero":false},"axis":{"orient":"top","values":[10.8,10.9,11,11.1,11.2,11.3,11.4,11.5,11.6,11.7,11.8,11.9,12,12.1,12.2,12.3,12.4,12.5,12.6,12.7,12.8,12.9,13],"labels":false,"title":null,"tickSize":{"condition":{"test":"abs(datum.value*2-round(datum.value*2))<0.01","value":-8.5},"value":-4}}},
  "y":{"field":"n","type":"quantitative","stack":null,"scale":{"domain":[0,20],"nice":false,"zero":false},"axis":{"orient":"right","values":[0,1,2,3,4,5,6,7,8,9,10,11,12,13,14,15,16,17,18,19,20],"labels":false,"title":null,"tickSize":{"condition":{"test":"datum.value % 5 == 0","value":-8.5},"value":-4}}}}},
 {"data":{"name":"model"},"mark":{"type":"line","interpolate":"step-after","color":"#1a1a1a","strokeWidth":2,"clip":true},"encoding":{
  "x":{"field":"x","type":"quantitative","scale":{"domain":[10.7,13.0],"nice":false,"zero":false},"axis":null},
  "y":{"field":"n","type":"quantitative","scale":{"domain":[0,20],"nice":false,"zero":false},"axis":null}}},
 {"data":{"name":"obs"},"transform":[{"filter":"datum.p == 'cl0024'"}],"mark":{"type":"line","interpolate":"step-after","color":"#ff2a14","strokeWidth":2.5},"encoding":{
  "x":{"field":"x","type":"quantitative","scale":{"domain":[10.7,13.0],"nice":false,"zero":false},"axis":null},
  "y":{"field":"n","type":"quantitative","scale":{"domain":[0,20],"nice":false,"zero":false},"axis":null}}},
 {"data":{"name":"labels"},"transform":[{"filter":"datum.p == 'cl0024'"}],"mark":{"type":"text","font":"Liberation Sans","fontSize":20,"color":"#333","align":"center","baseline":"middle"},"encoding":{
  "x":{"datum":12.24,"type":"quantitative","scale":{"domain":[10.7,13.0],"nice":false,"zero":false},"axis":null},
  "y":{"datum":16.2,"type":"quantitative","scale":{"domain":[0,20],"nice":false,"zero":false},"axis":null},
  "text":{"field":"p"}}}
]},
{"width":313,"height":286,"resolve":{"axis":{"x":"independent","y":"independent"}},"layer":[
 {"data":{"name":"band"},"mark":{"type":"area","fill":"#d3d3d3","clip":true},"encoding":{
  "x":{"field":"x","type":"quantitative","scale":{"domain":[10.7,13.0],"nice":false,"zero":false},"axis":{"orient":"bottom","values":[10.8,10.9,11,11.1,11.2,11.3,11.4,11.5,11.6,11.7,11.8,11.9,12,12.1,12.2,12.3,12.4,12.5,12.6,12.7,12.8,12.9,13],"format":".1f","labelExpr":"abs(datum.value*2-round(datum.value*2))<0.01 ? datum.label : ''","labelPadding":24,"tickSize":{"condition":{"test":"abs(datum.value*2-round(datum.value*2))<0.01","value":-8.5},"value":-4},"title":"Log[M/M⊙]","titleX":158,"titleY":44,"titleAlign":"center","titleBaseline":"middle"}},
  "y":{"field":"hi","type":"quantitative","scale":{"domain":[0,20],"nice":false,"zero":false},"axis":{"orient":"left","values":[0,1,2,3,4,5,6,7,8,9,10,11,12,13,14,15,16,17,18,19,20],"labels":false,"title":null,"tickSize":{"condition":{"test":"datum.value % 5 == 0","value":-8.5},"value":-4}}},
  "y2":{"field":"lo"}}},
 {"data":{"name":"obs"},"transform":[{"filter":"datum.p == 'cl0054' && datum.x > 11.25 && datum.x < 12.75"}],"mark":{"type":"area","interpolate":"step-after","clip":true,"fill":{"gradient":"linear","x1":0,"y1":0,"x2":0.9953,"y2":1.0460,"stops":[{"offset":0,"color":"rgba(255,40,20,0)"},{"offset":0.0127,"color":"rgba(255,40,20,0)"},{"offset":0.0167,"color":"rgba(255,40,20,0.8)"},{"offset":0.0207,"color":"rgba(255,40,20,0)"},{"offset":0.046,"color":"rgba(255,40,20,0)"},{"offset":0.05,"color":"rgba(255,40,20,0.8)"},{"offset":0.054,"color":"rgba(255,40,20,0)"},{"offset":0.0793,"color":"rgba(255,40,20,0)"},{"offset":0.0833,"color":"rgba(255,40,20,0.8)"},{"offset":0.0873,"color":"rgba(255,40,20,0)"},{"offset":0.1127,"color":"rgba(255,40,20,0)"},{"offset":0.1167,"color":"rgba(255,40,20,0.8)"},{"offset":0.1207,"color":"rgba(255,40,20,0)"},{"offset":0.146,"color":"rgba(255,40,20,0)"},{"offset":0.15,"color":"rgba(255,40,20,0.8)"},{"offset":0.154,"color":"rgba(255,40,20,0)"},{"offset":0.1793,"color":"rgba(255,40,20,0)"},{"offset":0.1833,"color":"rgba(255,40,20,0.8)"},{"offset":0.1873,"color":"rgba(255,40,20,0)"},{"offset":0.2127,"color":"rgba(255,40,20,0)"},{"offset":0.2167,"color":"rgba(255,40,20,0.8)"},{"offset":0.2207,"color":"rgba(255,40,20,0)"},{"offset":0.246,"color":"rgba(255,40,20,0)"},{"offset":0.25,"color":"rgba(255,40,20,0.8)"},{"offset":0.254,"color":"rgba(255,40,20,0)"},{"offset":0.2793,"color":"rgba(255,40,20,0)"},{"offset":0.2833,"color":"rgba(255,40,20,0.8)"},{"offset":0.2873,"color":"rgba(255,40,20,0)"},{"offset":0.3127,"color":"rgba(255,40,20,0)"},{"offset":0.3167,"color":"rgba(255,40,20,0.8)"},{"offset":0.3207,"color":"rgba(255,40,20,0)"},{"offset":0.346,"color":"rgba(255,40,20,0)"},{"offset":0.35,"color":"rgba(255,40,20,0.8)"},{"offset":0.354,"color":"rgba(255,40,20,0)"},{"offset":0.3793,"color":"rgba(255,40,20,0)"},{"offset":0.3833,"color":"rgba(255,40,20,0.8)"},{"offset":0.3873,"color":"rgba(255,40,20,0)"},{"offset":0.4127,"color":"rgba(255,40,20,0)"},{"offset":0.4167,"color":"rgba(255,40,20,0.8)"},{"offset":0.4207,"color":"rgba(255,40,20,0)"},{"offset":0.446,"color":"rgba(255,40,20,0)"},{"offset":0.45,"color":"rgba(255,40,20,0.8)"},{"offset":0.454,"color":"rgba(255,40,20,0)"},{"offset":0.4793,"color":"rgba(255,40,20,0)"},{"offset":0.4833,"color":"rgba(255,40,20,0.8)"},{"offset":0.4873,"color":"rgba(255,40,20,0)"},{"offset":0.5127,"color":"rgba(255,40,20,0)"},{"offset":0.5167,"color":"rgba(255,40,20,0.8)"},{"offset":0.5207,"color":"rgba(255,40,20,0)"},{"offset":0.546,"color":"rgba(255,40,20,0)"},{"offset":0.55,"color":"rgba(255,40,20,0.8)"},{"offset":0.554,"color":"rgba(255,40,20,0)"},{"offset":0.5793,"color":"rgba(255,40,20,0)"},{"offset":0.5833,"color":"rgba(255,40,20,0.8)"},{"offset":0.5873,"color":"rgba(255,40,20,0)"},{"offset":0.6127,"color":"rgba(255,40,20,0)"},{"offset":0.6167,"color":"rgba(255,40,20,0.8)"},{"offset":0.6207,"color":"rgba(255,40,20,0)"},{"offset":0.646,"color":"rgba(255,40,20,0)"},{"offset":0.65,"color":"rgba(255,40,20,0.8)"},{"offset":0.654,"color":"rgba(255,40,20,0)"},{"offset":0.6793,"color":"rgba(255,40,20,0)"},{"offset":0.6833,"color":"rgba(255,40,20,0.8)"},{"offset":0.6873,"color":"rgba(255,40,20,0)"},{"offset":0.7127,"color":"rgba(255,40,20,0)"},{"offset":0.7167,"color":"rgba(255,40,20,0.8)"},{"offset":0.7207,"color":"rgba(255,40,20,0)"},{"offset":0.746,"color":"rgba(255,40,20,0)"},{"offset":0.75,"color":"rgba(255,40,20,0.8)"},{"offset":0.754,"color":"rgba(255,40,20,0)"},{"offset":0.7793,"color":"rgba(255,40,20,0)"},{"offset":0.7833,"color":"rgba(255,40,20,0.8)"},{"offset":0.7873,"color":"rgba(255,40,20,0)"},{"offset":0.8127,"color":"rgba(255,40,20,0)"},{"offset":0.8167,"color":"rgba(255,40,20,0.8)"},{"offset":0.8207,"color":"rgba(255,40,20,0)"},{"offset":0.846,"color":"rgba(255,40,20,0)"},{"offset":0.85,"color":"rgba(255,40,20,0.8)"},{"offset":0.854,"color":"rgba(255,40,20,0)"},{"offset":0.8793,"color":"rgba(255,40,20,0)"},{"offset":0.8833,"color":"rgba(255,40,20,0.8)"},{"offset":0.8873,"color":"rgba(255,40,20,0)"},{"offset":0.9127,"color":"rgba(255,40,20,0)"},{"offset":0.9167,"color":"rgba(255,40,20,0.8)"},{"offset":0.9207,"color":"rgba(255,40,20,0)"},{"offset":0.946,"color":"rgba(255,40,20,0)"},{"offset":0.95,"color":"rgba(255,40,20,0.8)"},{"offset":0.954,"color":"rgba(255,40,20,0)"},{"offset":0.9793,"color":"rgba(255,40,20,0)"},{"offset":0.9833,"color":"rgba(255,40,20,0.8)"},{"offset":0.9873,"color":"rgba(255,40,20,0)"},{"offset":1,"color":"rgba(255,40,20,0)"}]}},"encoding":{
  "x":{"field":"x","type":"quantitative","scale":{"domain":[10.7,13.0],"nice":false,"zero":false},"axis":{"orient":"top","values":[10.8,10.9,11,11.1,11.2,11.3,11.4,11.5,11.6,11.7,11.8,11.9,12,12.1,12.2,12.3,12.4,12.5,12.6,12.7,12.8,12.9,13],"labels":false,"title":null,"tickSize":{"condition":{"test":"abs(datum.value*2-round(datum.value*2))<0.01","value":-8.5},"value":-4}}},
  "y":{"field":"n","type":"quantitative","stack":null,"scale":{"domain":[0,20],"nice":false,"zero":false},"axis":{"orient":"right","values":[0,1,2,3,4,5,6,7,8,9,10,11,12,13,14,15,16,17,18,19,20],"labels":false,"title":null,"tickSize":{"condition":{"test":"datum.value % 5 == 0","value":-8.5},"value":-4}}}}},
 {"data":{"name":"model"},"mark":{"type":"line","interpolate":"step-after","color":"#1a1a1a","strokeWidth":2,"clip":true},"encoding":{
  "x":{"field":"x","type":"quantitative","scale":{"domain":[10.7,13.0],"nice":false,"zero":false},"axis":null},
  "y":{"field":"n","type":"quantitative","scale":{"domain":[0,20],"nice":false,"zero":false},"axis":null}}},
 {"data":{"name":"obs"},"transform":[{"filter":"datum.p == 'cl0054'"}],"mark":{"type":"line","interpolate":"step-after","color":"#ff2a14","strokeWidth":2.5},"encoding":{
  "x":{"field":"x","type":"quantitative","scale":{"domain":[10.7,13.0],"nice":false,"zero":false},"axis":null},
  "y":{"field":"n","type":"quantitative","scale":{"domain":[0,20],"nice":false,"zero":false},"axis":null}}},
 {"data":{"name":"labels"},"transform":[{"filter":"datum.p == 'cl0054'"}],"mark":{"type":"text","font":"Liberation Sans","fontSize":20,"color":"#333","align":"center","baseline":"middle"},"encoding":{
  "x":{"datum":12.24,"type":"quantitative","scale":{"domain":[10.7,13.0],"nice":false,"zero":false},"axis":null},
  "y":{"datum":16.3,"type":"quantitative","scale":{"domain":[0,20],"nice":false,"zero":false},"axis":null},
  "text":{"field":"p"}}}
]},
{"width":299,"height":286,"resolve":{"axis":{"x":"independent","y":"independent"}},"layer":[
 {"mark":{"type":"point","opacity":0},"encoding":{
  "x":{"datum":0,"type":"quantitative","scale":{"domain":[0,0.95527],"nice":false,"zero":false},"axis":{"orient":"bottom","values":[0.05,0.1,0.15,0.2,0.25,0.3,0.35,0.4,0.45,0.5,0.55,0.6,0.65,0.7,0.75,0.8,0.85,0.9,0.95],"labels":false,"title":null,"tickSize":{"condition":{"test":"abs(datum.value*5-round(datum.value*5))<0.01","value":-8.5},"value":-4}}},
  "y":{"datum":0,"type":"quantitative","scale":{"domain":[0,1],"nice":false,"zero":false},"axis":{"orient":"left","values":[0.05,0.1,0.15,0.2,0.25,0.3,0.35,0.4,0.45,0.5,0.55,0.6,0.65,0.7,0.75,0.8,0.85,0.9,0.95],"labels":false,"title":null,"tickSize":{"condition":{"test":"abs(datum.value*5-round(datum.value*5))<0.01","value":-8.5},"value":-4}}}}},
 {"mark":{"type":"point","opacity":0},"encoding":{
  "x":{"datum":0,"type":"quantitative","scale":{"domain":[0,0.95527],"nice":false,"zero":false},"axis":{"orient":"top","values":[0.05,0.1,0.15,0.2,0.25,0.3,0.35,0.4,0.45,0.5,0.55,0.6,0.65,0.7,0.75,0.8,0.85,0.9,0.95],"labels":false,"title":null,"tickSize":{"condition":{"test":"abs(datum.value*5-round(datum.value*5))<0.01","value":-8.5},"value":-4}}},
  "y":{"datum":0,"type":"quantitative","scale":{"domain":[0,1],"nice":false,"zero":false},"axis":null}}}
]}
]
}
